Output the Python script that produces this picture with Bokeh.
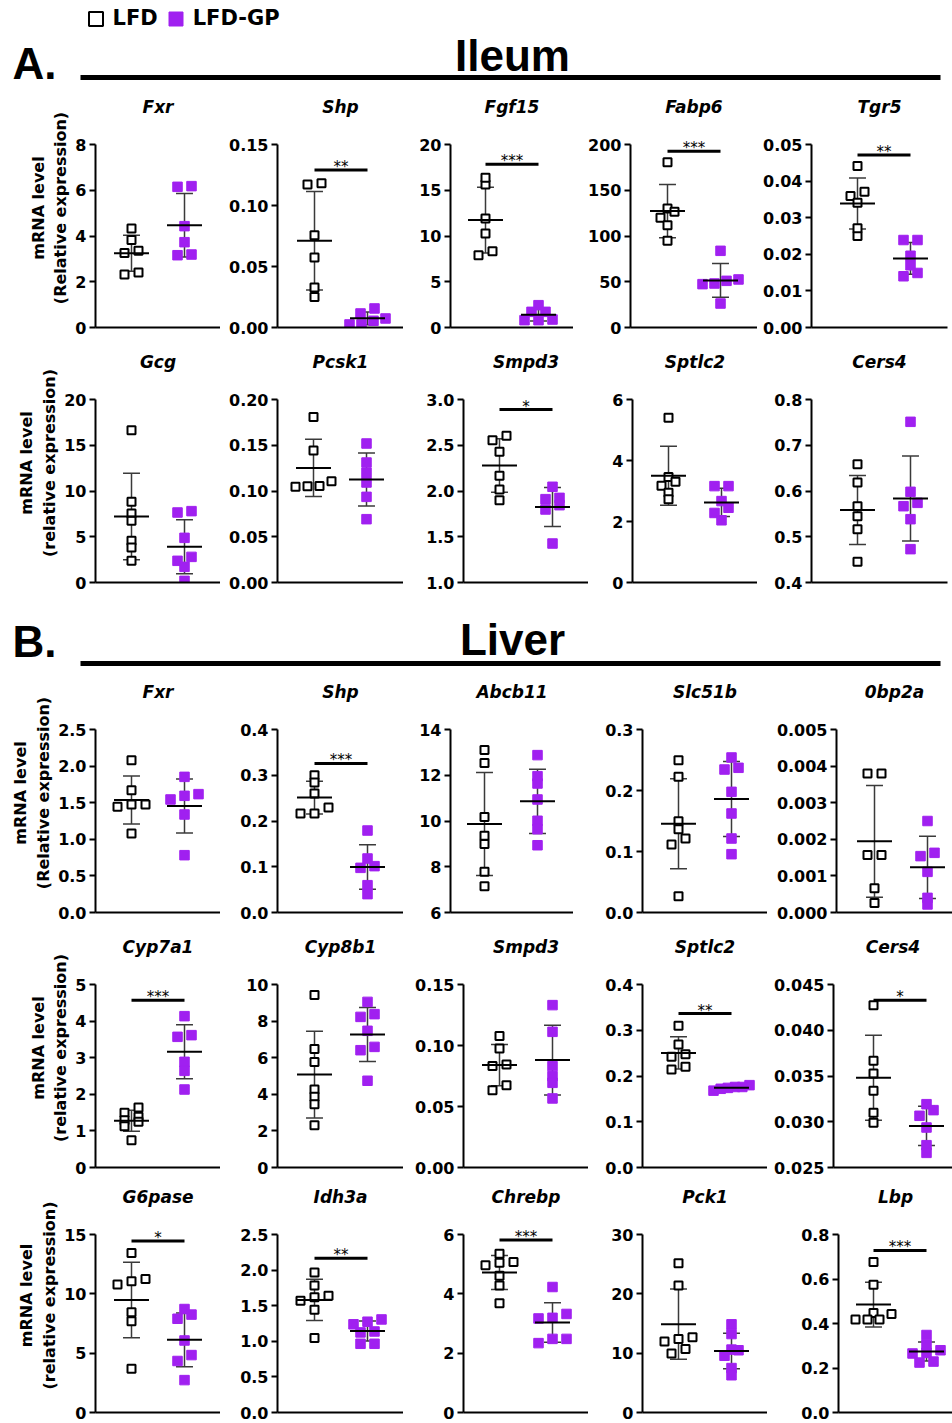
import numpy as np
from bokeh.plotting import figure
from bokeh.layouts import column, row
from bokeh.models import Range1d, FixedTicker, Legend, LegendItem, PrintfTickFormatter
from bokeh.core.properties import value
from bokeh.embed import file_html
from bokeh.resources import INLINE

# ---------------- data ----------------
groups = ["LFD", "LFD-GP"]

ileum_genes = ["Fxr", "Shp", "Fgf15", "Fabp6", "Tgr5",
               "Gcg", "Pcsk1", "Smpd3", "Sptlc2", "Cers4"]
ileum_lfd = [
    [4.33, 3.82, 3.26, 3.35, 2.32, 2.40],
    [0.1172, 0.1183, 0.0757, 0.0574, 0.0328, 0.0251],
    [15.63, 16.36, 11.91, 10.27, 7.90, 8.34],
    [180.7, 130.0, 126.4, 119.9, 111.8, 94.7],
    [0.0441, 0.0371, 0.0359, 0.0341, 0.0250, 0.0271],
    [16.65, 8.82, 7.54, 6.74, 4.55, 3.83, 2.37],
    [0.181, 0.1443, 0.1107, 0.1053, 0.1046, 0.1056],
    [2.556, 2.603, 2.428, 2.166, 2.016, 1.900],
    [5.40, 3.46, 3.30, 3.17, 2.94, 2.73],
    [0.6587, 0.6186, 0.5668, 0.5450, 0.5166, 0.4452],
]
ileum_gp = [
    [6.15, 6.18, 4.43, 3.73, 3.16, 3.19],
    [0.0156, 0.0115, 0.0074, 0.0055, 0.0025, 0.0025],
    [2.44, 1.71, 1.71, 0.80, 0.87, 0.80],
    [83.8, 52.5, 51.0, 48.1, 47.4, 26.2],
    [0.0239, 0.0239, 0.0196, 0.0170, 0.0140, 0.0149],
    [7.65, 7.80, 4.88, 2.80, 2.37, 1.71, 0.18],
    [0.1519, 0.1311, 0.1199, 0.1093, 0.0936, 0.0692],
    [2.046, 1.925, 1.911, 1.845, 1.798, 1.426],
    [3.16, 3.16, 2.67, 2.45, 2.28, 2.04],
    [0.7512, 0.5982, 0.5741, 0.5668, 0.5384, 0.4729],
]
ileum_ticks = [
    ["0", "2", "4", "6", "8"],
    ["0.00", "0.05", "0.10", "0.15"],
    ["0", "5", "10", "15", "20"],
    ["0", "50", "100", "150", "200"],
    ["0.00", "0.01", "0.02", "0.03", "0.04", "0.05"],
    ["0", "5", "10", "15", "20"],
    ["0.00", "0.05", "0.10", "0.15", "0.20"],
    ["1.0", "1.5", "2.0", "2.5", "3.0"],
    ["0", "2", "4", "6"],
    ["0.4", "0.5", "0.6", "0.7", "0.8"],
]
ileum_sig = ["", "**", "***", "***", "**", "", "", "*", "", ""]
ileum_sig_y = [None, 0.129, 17.85, 192.7, 0.0471, None, None, 2.89, None, None]

liver_genes = ["Fxr", "Shp", "Abcb11", "Slc51b", "0bp2a",
               "Cyp7a1", "Cyp8b1", "Smpd3", "Sptlc2", "Cers4",
               "G6pase", "Idh3a", "Chrebp", "Pck1", "Lbp"]
liver_lfd = [
    [2.081, 1.671, 1.475, 1.443, 1.475, 1.079],
    [0.3002, 0.2842, 0.2601, 0.2295, 0.2164, 0.2164],
    [13.10, 12.54, 10.18, 9.35, 8.99, 7.78, 7.15],
    [0.2497, 0.2224, 0.1497, 0.1366, 0.1213, 0.1115, 0.0268],
    [0.00380, 0.00380, 0.00157, 0.00157, 0.00066, 0.00026],
    [1.639, 1.494, 1.384, 1.293, 1.248, 1.129, 0.747],
    [9.42, 6.47, 5.77, 4.26, 3.86, 3.46, 2.31],
    [0.1077, 0.0975, 0.0831, 0.0844, 0.0634, 0.0675],
    [0.3097, 0.2689, 0.2419, 0.2477, 0.2142, 0.2200],
    [0.04274, 0.03666, 0.03527, 0.03338, 0.03097, 0.02988],
    [13.44, 11.07, 11.26, 10.79, 8.44, 7.70, 3.69],
    [1.967, 1.785, 1.639, 1.617, 1.571, 1.443, 1.047],
    [5.355, 5.049, 5.071, 4.962, 4.612, 4.284, 3.683],
    [25.14, 21.42, 12.68, 12.40, 11.97, 10.70, 9.95],
    [0.6761, 0.5741, 0.4474, 0.4430, 0.4182, 0.4182, 0.4182],
]
liver_gp = [
    [1.853, 1.617, 1.594, 1.544, 1.339, 0.783],
    [0.1792, 0.1180, 0.0976, 0.1013, 0.0597, 0.0401],
    [12.88, 11.64, 11.96, 10.94, 10.01, 9.64, 8.94],
    [0.2541, 0.2344, 0.2372, 0.1978, 0.1623, 0.1213, 0.0956],
    [0.00250, 0.00163, 0.00154, 0.00111, 0.00040, 0.00022],
    [4.135, 3.616, 3.570, 2.887, 2.641, 2.131],
    [9.05, 8.23, 8.38, 7.47, 6.59, 6.41, 4.74],
    [0.1331, 0.1112, 0.0831, 0.0749, 0.0694, 0.0566],
    [0.180, 0.176, 0.176, 0.174, 0.172, 0.168],
    [0.03127, 0.03192, 0.03065, 0.02937, 0.02744, 0.02660],
    [8.72, 8.25, 7.90, 6.07, 4.84, 4.34, 2.73],
    [1.307, 1.275, 1.239, 1.138, 1.125, 0.965, 0.965],
    [4.230, 3.322, 3.191, 3.170, 2.481, 2.481, 2.339],
    [14.86, 13.22, 10.60, 10.49, 9.56, 7.49, 6.28],
    [0.3483, 0.3046, 0.2798, 0.2681, 0.2652, 0.2288, 0.2244],
]
liver_ticks = [
    ["0.0", "0.5", "1.0", "1.5", "2.0", "2.5"],
    ["0.0", "0.1", "0.2", "0.3", "0.4"],
    ["6", "8", "10", "12", "14"],
    ["0.0", "0.1", "0.2", "0.3"],
    ["0.000", "0.001", "0.002", "0.003", "0.004", "0.005"],
    ["0", "1", "2", "3", "4", "5"],
    ["0", "2", "4", "6", "8", "10"],
    ["0.00", "0.05", "0.10", "0.15"],
    ["0.0", "0.1", "0.2", "0.3", "0.4"],
    ["0.025", "0.030", "0.035", "0.040", "0.045"],
    ["0", "5", "10", "15"],
    ["0.0", "0.5", "1.0", "1.5", "2.0", "2.5"],
    ["0", "2", "4", "6"],
    ["0", "10", "20", "30"],
    ["0.0", "0.2", "0.4", "0.6", "0.8"],
]
liver_sig = ["", "***", "", "", "", "***", "", "", "**", "*", "*", "**", "***", "", "***"]
liver_sig_y = [None, 0.3257, None, None, None, 4.57, None, None, 0.3366, 0.04329,
               14.45, 2.167, 5.814, None, 0.7286]

ylabels = ["mRNA level\n(Relative expression)", "mRNA level\n(relative expression)",
           "mRNA level\n(Relative expression)", "mRNA level\n(relative expression)",
           "mRNA level\n(relative expression)"]

# ---------------- style / layout ----------------
PURPLE = "#A020F0"
UNIT = 53.0            # px between the two group centres
TOP_OFF = 56           # px from the top of a panel row to its highest tick
TITLE_GAP = 38         # px from the highest tick up to the gene name
PAGE_W = 952
ROW_AXES = [[95, 277, 450, 630, 811], [95, 277, 463, 632, 811], [95, 277, 450, 642, 836],
            [95, 277, 463, 642, 833], [95, 277, 463, 642, 838]]
ROW_RIGHTS = [[220, 403, 573, 757, 947], [220, 403, 588, 757, 947], [220, 403, 573, 767, 952],
              [220, 403, 588, 767, 952], [220, 403, 588, 767, 952]]
ROW_LEADS = [[36, 37, 35, 37, 46], [36, 36, 36, 36, 46], [36, 37, 34, 36, 38],
             [36, 37, 36, 36, 40], [36, 37, 36, 36, 35]]
ROW_H = [255, 255, 255, 250, 245]
ROW_FRAME_H = [183, 183, 183, 183, 178]
TICK_FONT = "DejaVu Sans"


def swarm_px(vals, ppu, thresh=6.0, step=14.0, max_span=36.0):
    v = np.asarray(vals, dtype=float)
    order = np.argsort(v, kind="stable")
    offs = np.zeros(len(v))
    rows_, cur, start = [], [], None
    for i in order:
        y = v[i] * ppu
        if cur and (y - start) < thresh:
            cur.append(i)
        else:
            if cur:
                rows_.append(cur)
            cur, start = [i], y
    if cur:
        rows_.append(cur)
    for r in rows_:
        n = len(r)
        s = step if n < 2 else min(step, max_span / (n - 1))
        for k, i in enumerate(r):
            offs[i] = (k - (n - 1) / 2.0) * s
    return offs


def panel(gene, lfd, gp, ticks, sig, sig_y, ylabel, axis_x, right, lead, start, end,
          fig_h, frame_h):
    tvals = [float(t) for t in ticks]
    ymin, ymax = tvals[0], tvals[-1]
    ppu = frame_h / (ymax - ymin)
    frame_w = right - axis_x
    x0 = 1 - lead / UNIT
    x1 = x0 + frame_w / UNIT
    p = figure(width=end - start, height=fig_h, x_range=Range1d(x0, x1),
               y_range=Range1d(ymin, ymax + TOP_OFF / ppu), toolbar_location=None,
               output_backend="svg", min_border_left=axis_x - start,
               min_border_right=end - right,
               min_border_top=0, min_border_bottom=fig_h - TOP_OFF - frame_h,
               outline_line_color=None, background_fill_color="white",
               border_fill_color="white")
    p.xgrid.visible = False
    p.ygrid.visible = False

    # gene name above the axis
    p.text(x=[(x0 + x1) / 2], y=[ymax + TITLE_GAP / ppu], text=[gene],
           text_font=value("DejaVu Sans"), text_font_style="bold italic",
           text_font_size="17px", text_align="center", text_baseline="middle",
           text_color="black")

    dec = len(ticks[0].split(".")[1]) if "." in ticks[0] else 0
    yax = p.yaxis[0]
    yax.bounds = (ymin, ymax)
    yax.ticker = FixedTicker(ticks=tvals)
    yax.formatter = PrintfTickFormatter(format="%." + str(dec) + "f")
    yax.axis_line_width = 2
    yax.major_tick_line_width = 2
    yax.major_tick_out = 6
    yax.major_tick_in = 0
    yax.minor_tick_line_color = None
    yax.major_label_text_font = TICK_FONT
    yax.major_label_text_font_style = "bold"
    yax.major_label_text_font_size = "16px"
    yax.major_label_text_color = "black"
    yax.major_label_standoff = 3
    if ylabel:
        yax.axis_label = ylabel
        yax.axis_label_text_font = TICK_FONT
        yax.axis_label_text_font_style = "bold"
        yax.axis_label_text_font_size = "16px"
        yax.axis_label_text_color = "black"
        yax.axis_label_standoff = 2

    xax = p.xaxis[0]
    xax.ticker = FixedTicker(ticks=[])
    xax.axis_line_width = 2
    xax.major_tick_line_color = None
    xax.minor_tick_line_color = None
    xax.major_label_text_font_size = "0px"
    xax.major_tick_out = 0
    xax.major_label_standoff = 0

    for g, vals in enumerate([lfd, gp]):
        xc = 1.0 + g
        arr = np.asarray(vals, dtype=float)
        m = arr.mean()
        sd = arr.std(ddof=1)
        xs = xc + swarm_px(arr, ppu) / UNIT
        p.segment(x0=[xc], y0=[m - sd], x1=[xc], y1=[m + sd],
                  line_color="#3a3a3a", line_width=1.5)
        p.segment(x0=[xc - 0.16, xc - 0.16], y0=[m - sd, m + sd],
                  x1=[xc + 0.16, xc + 0.16], y1=[m - sd, m + sd],
                  line_color="#3a3a3a", line_width=1.5)
        if g == 0:
            p.scatter(x=xs, y=arr, marker="square", size=8, fill_color="white",
                      line_color="black", line_width=2)
        else:
            p.scatter(x=xs, y=arr, marker="square", size=9.5, fill_color=PURPLE,
                      line_color=PURPLE, line_width=1)
        p.segment(x0=[xc - 0.33], y0=[m], x1=[xc + 0.33], y1=[m],
                  line_color="black", line_width=2)
    if sig:
        p.segment(x0=[1.0], y0=[sig_y], x1=[2.0], y1=[sig_y], line_color="black",
                  line_width=3)
        p.text(x=[1.5], y=[sig_y], text=[sig], text_align="center",
               text_baseline="middle", y_offset=-3, text_font=value("DejaVu Sans"),
               text_font_size="15px", text_color="black")
    return p


def header(letter, name, y_top, y_bot, letter_y, name_y, line_y, with_legend=False):
    h = y_bot - y_top
    p = figure(width=PAGE_W, height=h, x_range=Range1d(0, PAGE_W), y_range=Range1d(y_bot, y_top),
               toolbar_location=None, output_backend="svg", min_border=0,
               x_axis_location=None, y_axis_location=None, outline_line_color=None)
    p.xgrid.visible = False
    p.ygrid.visible = False
    p.text(x=[12], y=[letter_y], text=[letter], text_font=value("Liberation Sans"),
           text_font_style="bold", text_font_size="44px", text_baseline="middle",
           text_color="black")
    p.text(x=[512], y=[name_y], text=[name], text_font=value("Liberation Sans"),
           text_font_style="bold", text_font_size="44px", text_baseline="middle",
           text_align="center", text_color="black")
    p.segment(x0=[80], y0=[line_y], x1=[940], y1=[line_y], line_color="black", line_width=5)
    if with_legend:
        r1 = p.scatter(x=[np.nan], y=[np.nan], marker="square", size=14, fill_color="white",
                       line_color="black", line_width=2)
        r2 = p.scatter(x=[np.nan], y=[np.nan], marker="square", size=14, fill_color=PURPLE,
                       line_color=PURPLE)
        leg = Legend(items=[LegendItem(label=groups[0], renderers=[r1]),
                            LegendItem(label=groups[1], renderers=[r2])],
                     orientation="horizontal", location=(77.5, h - 18 - 17.5),
                     glyph_width=35, glyph_height=35, label_standoff=0, spacing=0,
                     padding=0, margin=0, border_line_color=None,
                     background_fill_alpha=0, label_text_font="DejaVu Sans",
                     label_text_font_style="bold", label_text_font_size="21px",
                     label_text_color="black")
        p.add_layout(leg)
    return p


def build_row(r, genes, lfd, gp, ticks, sig, sig_y, idx):
    figs = []
    start = 0
    idx = list(idx)
    for k, i in enumerate(idx):
        ax, rt, ld = ROW_AXES[r][k], ROW_RIGHTS[r][k], ROW_LEADS[r][k]
        end = PAGE_W if k == len(idx) - 1 else rt
        figs.append(panel(genes[i], lfd[i], gp[i], ticks[i], sig[i], sig_y[i],
                          ylabels[r] if k == 0 else None, ax, rt, ld, start, end,
                          ROW_H[r], ROW_FRAME_H[r]))
        start = end
    return row(*figs)


rows_all = [
    header("A.", "Ileum", 0, 88, 63, 55, 77, with_legend=True),
    build_row(0, ileum_genes, ileum_lfd, ileum_gp, ileum_ticks, ileum_sig, ileum_sig_y, range(0, 5)),
    build_row(1, ileum_genes, ileum_lfd, ileum_gp, ileum_ticks, ileum_sig, ileum_sig_y, range(5, 10)),
    header("B.", "Liver", 598, 673, 641, 639, 663),
    build_row(2, liver_genes, liver_lfd, liver_gp, liver_ticks, liver_sig, liver_sig_y, range(0, 5)),
    build_row(3, liver_genes, liver_lfd, liver_gp, liver_ticks, liver_sig, liver_sig_y, range(5, 10)),
    build_row(4, liver_genes, liver_lfd, liver_gp, liver_ticks, liver_sig, liver_sig_y, range(10, 15)),
]
layout = column(*rows_all)

open("out.html", "w").write(file_html(layout, INLINE))
